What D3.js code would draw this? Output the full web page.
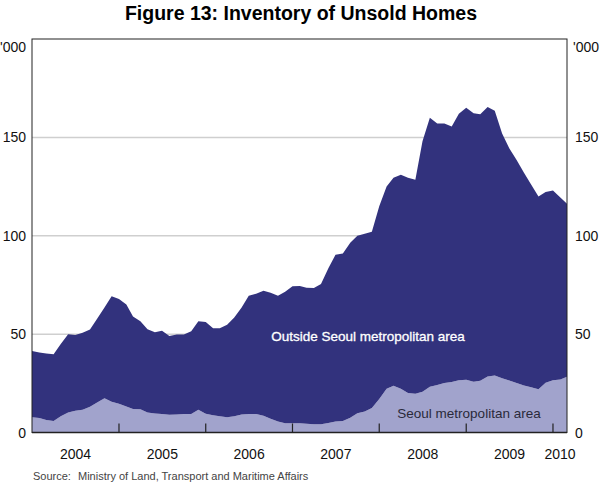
<!DOCTYPE html>
<html>
<head>
<meta charset="utf-8">
<script src="https://cdn.jsdelivr.net/npm/d3@7"></script>
<style>
  body { margin: 0; background: #fff; }
  svg { font-family: Arial, "Liberation Sans", sans-serif; }
</style>
</head>
<body>
<div id="canvas"></div>
<script>
// -------------------------------------------- Data ('000 homes, monthly from Jan 2004)
const startMonth = new Date(2004, 0, 1);
const seoul = [
  7.7, 7.4, 6.3, 5.8, 8.3, 10.2, 11.0, 11.5, 13.1, 15.3, 17.4, 15.6,
  14.6, 13.2, 11.9, 11.8, 10.2, 9.6, 9.4, 9.0, 9.1, 9.4, 9.4, 11.5,
  9.5, 8.8, 8.2, 7.8, 8.2, 9.2, 9.4, 9.4, 8.5, 7.0, 5.6, 4.7,
  4.7, 4.7, 4.4, 4.2, 4.2, 4.8, 5.6, 5.8, 7.5, 9.8, 10.7, 12.5,
  17.0, 22.3, 23.7, 22.3, 20.1, 19.7, 20.7, 23.2, 24.2, 25.2, 25.7, 26.5,
  26.8, 25.8, 26.3, 28.5, 29.0, 27.6, 26.4, 25.2, 23.9, 23.0, 22.0, 25.3,
  26.6, 27.0, 28.3
];
const outside = [
  33.7, 33.3, 33.9, 34.0, 36.7, 39.8, 38.5, 39.2, 39.3, 42.5, 46.1, 53.7,
  53.2, 51.8, 47.1, 44.7, 42.3, 41.4, 42.3, 40.0, 40.7, 40.4, 42.1, 45.0,
  46.7, 44.2, 44.8, 47.0, 50.3, 54.3, 60.1, 61.1, 63.5, 64.0, 63.9, 66.8,
  69.6, 69.8, 69.2, 69.2, 71.3, 78.7, 84.7, 85.2, 89.0, 90.2, 90.3, 89.5,
  98.0, 102.7, 105.8, 108.7, 109.4, 108.8, 127.3, 136.8, 132.8, 131.8, 129.8, 135.5,
  138.2, 136.5, 135.4, 136.9, 134.5, 124.4, 118.1, 113.3, 108.1, 103.0, 98.0, 96.9,
  96.4, 92.5, 88.0
];
const yTicks = [0, 50, 100, 150];
const years = [2004, 2005, 2006, 2007, 2008, 2009, 2010];

// -------------------------------------------- Dimensiones
const width = 600;
const height = 485;
const margin = { top: 39, left: 32, bottom: 52.5, right: 33 };
const iwidth = width - margin.left - margin.right;
const iheight = height - margin.top - margin.bottom;

const svg = d3.select("#canvas").append("svg")
  .attr("width", width)
  .attr("height", height);

const rows = seoul.map((s, i) => ({
  date: d3.timeMonth.offset(startMonth, i),
  seoul: s,
  outside: outside[i]
}));

const x = d3.scaleTime()
  .domain([startMonth, d3.timeMonth.offset(startMonth, seoul.length - 1)])
  .range([0, iwidth]);
const y = d3.scaleLinear().domain([0, 200]).range([iheight, 0]);

const g = svg.append("g")
  .attr("transform", `translate(${margin.left},${margin.top})`);

// ----- Grid
g.selectAll(".grid").data(yTicks.filter((d) => d > 0)).enter()
  .append("line")
  .attr("x1", 0).attr("x2", iwidth)
  .attr("y1", (d) => y(d)).attr("y2", (d) => y(d))
  .attr("stroke", "#cfcfcf").attr("stroke-width", 1.5);

// ----- Areas
const stack = d3.stack().keys(["seoul", "outside"]);
const series = stack(rows);
const colors = { seoul: "#a1a3cc", outside: "#32327d" };

const area = d3.area()
  .x((d) => x(d.data.date))
  .y0((d) => y(d[0]))
  .y1((d) => y(d[1]));

g.selectAll(".layer").data(series).enter()
  .append("path")
  .attr("d", area)
  .attr("fill", (d) => colors[d.key]);

// ----- Frame
g.append("rect")
  .attr("width", iwidth).attr("height", iheight)
  .attr("fill", "none").attr("stroke", "#222").attr("stroke-width", 1);
g.append("line")
  .attr("x1", 0).attr("x2", iwidth).attr("y1", iheight).attr("y2", iheight)
  .attr("stroke", "#222").attr("stroke-width", 1.5);

// ----- Year ticks (inside, at year boundaries)
const bounds = years.slice(1).map((yr) => new Date(yr, 0, 1));
g.selectAll(".ytick").data(bounds).enter()
  .append("line")
  .attr("x1", (d) => x(d)).attr("x2", (d) => x(d))
  .attr("y1", iheight).attr("y2", iheight - 9)
  .attr("stroke", "#222").attr("stroke-width", 1.2);

// ----- Year labels
const [d0, d1] = x.domain();
g.selectAll(".yearlab").data(years).enter()
  .append("text")
  .attr("x", (yr) => {
    const a = Math.max(+new Date(yr, 0, 1), +d0);
    const b = Math.min(+new Date(yr + 1, 0, 1), +d1);
    return (x(new Date(a)) + x(new Date(b))) / 2;
  })
  .attr("y", iheight + 26)
  .attr("text-anchor", "middle")
  .attr("font-size", 14)
  .attr("fill", "#111")
  .text((yr) => yr);

// ----- Y labels both sides
const axL = g.append("g").attr("font-size", 14).attr("fill", "#111");
axL.selectAll("text").data(yTicks).enter().append("text")
  .attr("x", -6).attr("y", (d) => y(d)).attr("dy", "0.36em")
  .attr("text-anchor", "end").text((d) => d);
axL.append("text").attr("x", -6).attr("y", 8).attr("dy", "0.36em")
  .attr("text-anchor", "end").text("'000");

const axR = g.append("g").attr("font-size", 14).attr("fill", "#111");
axR.selectAll("text").data(yTicks).enter().append("text")
  .attr("x", iwidth + 8).attr("y", (d) => y(d)).attr("dy", "0.36em")
  .attr("text-anchor", "start").text((d) => d);
axR.append("text").attr("x", iwidth + 6).attr("y", 8).attr("dy", "0.36em")
  .attr("text-anchor", "start").text("'000");

// ----- Series labels
g.append("text")
  .attr("x", 368 - margin.left).attr("y", 341 - margin.top)
  .attr("text-anchor", "middle").attr("font-size", 13.5)
  .attr("fill", "#fff").attr("stroke", "#fff").attr("stroke-width", 0.3)
  .text("Outside Seoul metropolitan area");
g.append("text")
  .attr("x", 469 - margin.left).attr("y", 418 - margin.top)
  .attr("text-anchor", "middle").attr("font-size", 13.5)
  .attr("fill", "#2a2a3a").text("Seoul metropolitan area");

// ----- Title
svg.append("text")
  .attr("x", 301).attr("y", 20)
  .attr("text-anchor", "middle")
  .attr("font-size", 19.5).attr("font-weight", "bold")
  .attr("fill", "#000")
  .text("Figure 13: Inventory of Unsold Homes");

// ----- Source
const src = svg.append("g")
  .attr("font-family", "'Liberation Sans Narrow', 'Arial Narrow', sans-serif")
  .attr("font-size", 11).attr("fill", "#444");
src.append("text").attr("x", 33).attr("y", 480).text("Source:");
src.append("text").attr("x", 78).attr("y", 480)
  .text("Ministry of Land, Transport and Maritime Affairs");
</script>
</body>
</html>
